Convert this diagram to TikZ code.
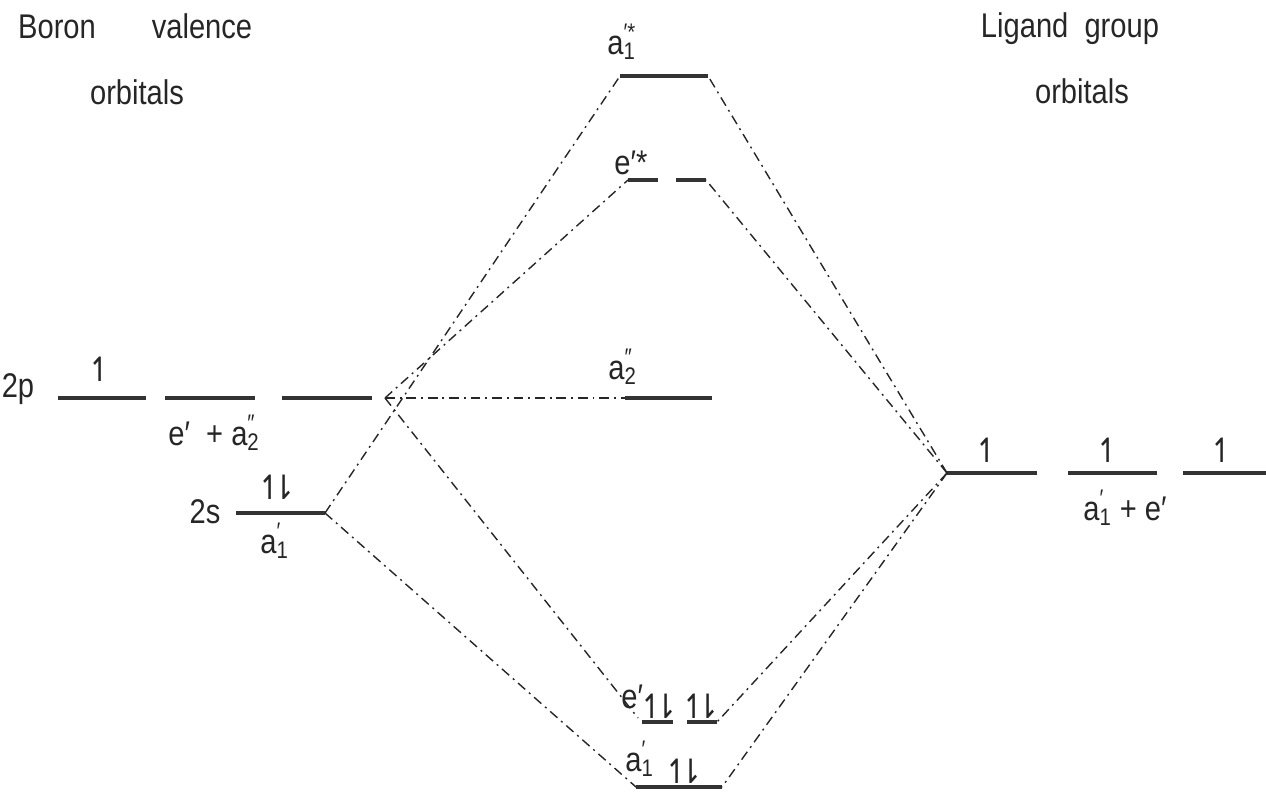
\documentclass[tikz,border=0pt]{standalone}
\usepackage{fontspec}
\setmainfont[FakeStretch=0.85]{Liberation Sans}
\newfontfamily\arr[FakeStretch=0.9]{DejaVu Sans}
\newcommand\orbl[3]{#1\rlap{\textsuperscript{#2}}\textsubscript{#3}}
\newcommand\pairud{↿\kern-0.32em⇂}
\begin{document}
\begin{tikzpicture}[x=0.02cm,y=-0.02cm,
  lvl/.style={line width=2pt,draw=black!80},
  conn/.style={line width=0.8pt,draw=black!85,dash pattern=on 5.5pt off 2.8pt on 1.1pt off 2.8pt},
  txt/.style={inner sep=0pt,anchor=base,font=\fontsize{19.5}{22}\selectfont,text=black!85},
  lab/.style={txt,anchor=base west},
  el/.style={inner sep=0pt,anchor=base,font=\arr\fontsize{19}{20}\selectfont,text=black!85}]
\useasboundingbox (0,0) rectangle (1266,791);
% headers
\node[txt] (boron) at (57,38) {Boron};
\node[txt] (valence) at (202,38) {valence};
\node[txt] (orbL) at (137,104) {orbitals};
\node[txt] (ligand) at (1070,37) {Ligand\ \ group};
\node[txt] (orbR) at (1082,103) {orbitals};
% boron 2p
\node[txt] (l2p) at (18,397) {2p};
\coordinate (p1a) at (58,398); \coordinate (p1b) at (146,398);
\coordinate (p2a) at (165,398); \coordinate (p2b) at (255,398);
\coordinate (p3a) at (282,398); \coordinate (p3b) at (372,398);
\draw[lvl] (p1a) -- (p1b) (p2a) -- (p2b) (p3a) -- (p3b);
\node[el] (ep1) at (100,381) {↿};
\node[lab] (sym2p) at (168,445) {e′\ \ + \orbl{a}{″}{2}};
\coordinate (Lc) at (385,398);
% boron 2s
\node[txt] (l2s) at (205,523) {2s};
\coordinate (sa) at (236,513); \coordinate (sb) at (325,513);
\draw[lvl] (sa) -- (sb);
\node[el] (es) at (277,499) {\pairud};
\node[lab] (sym2s) at (260,553) {\orbl{a}{′}{1}};
% MO levels
\coordinate (a1sa) at (620,76); \coordinate (a1sb) at (708,76);
\draw[lvl] (a1sa) -- (a1sb);
\node[lab] (la1s) at (607,54) {\orbl{a}{′*}{1}};
\coordinate (esa) at (628,180); \coordinate (esm1) at (658,180);
\coordinate (esm2) at (676,180); \coordinate (esb) at (706,180);
\draw[lvl] (esa) -- (esm1) (esm2) -- (esb);
\node[lab] (les) at (614,174) {e′*};
\coordinate (a2a) at (625,398); \coordinate (a2b) at (712,398);
\draw[lvl] (a2a) -- (a2b);
\node[lab] (la2) at (608,379) {\orbl{a}{″}{2}};
\coordinate (eba) at (642,722); \coordinate (ebm1) at (673,722);
\coordinate (ebm2) at (687,722); \coordinate (ebb) at (717,722);
\draw[lvl] (eba) -- (ebm1) (ebm2) -- (ebb);
\node[lab] (leb) at (621,708) {e′};
\node[el] (eb1) at (659,718) {\pairud};
\node[el] (eb2) at (701,718) {\pairud};
\coordinate (aba) at (636,787); \coordinate (abb) at (722,787);
\draw[lvl] (aba) -- (abb);
\node[lab] (lab1) at (625,771) {\orbl{a}{′}{1}};
\node[el] (ab1) at (684,783) {\pairud};
% ligand orbitals
\coordinate (g1a) at (947,473); \coordinate (g1b) at (1037,473);
\coordinate (g2a) at (1068,473); \coordinate (g2b) at (1157,473);
\coordinate (g3a) at (1183,473); \coordinate (g3b) at (1266,473);
\draw[lvl] (g1a) -- (g1b) (g2a) -- (g2b) (g3a) -- (g3b);
\node[el] (eg1) at (987,462) {↿};
\node[el] (eg2) at (1108,462) {↿};
\node[el] (eg3) at (1222,462) {↿};
\node[lab] (symg) at (1083,520) {\orbl{a}{′}{1} + e′};
% connectors
\draw[conn] (sb) -- (a1sa);
\draw[conn] (Lc) -- (esa);
\draw[conn] (Lc) -- (a2a);
\draw[conn] (Lc) -- (638,718);
\draw[conn] (sb) -- (aba);
\draw[conn] (g1a) -- (a1sb);
\draw[conn] (g1a) -- (esb);
\draw[conn] (g1a) -- (ebb);
\draw[conn] (g1a) -- (abb);
\end{tikzpicture}
\end{document}
